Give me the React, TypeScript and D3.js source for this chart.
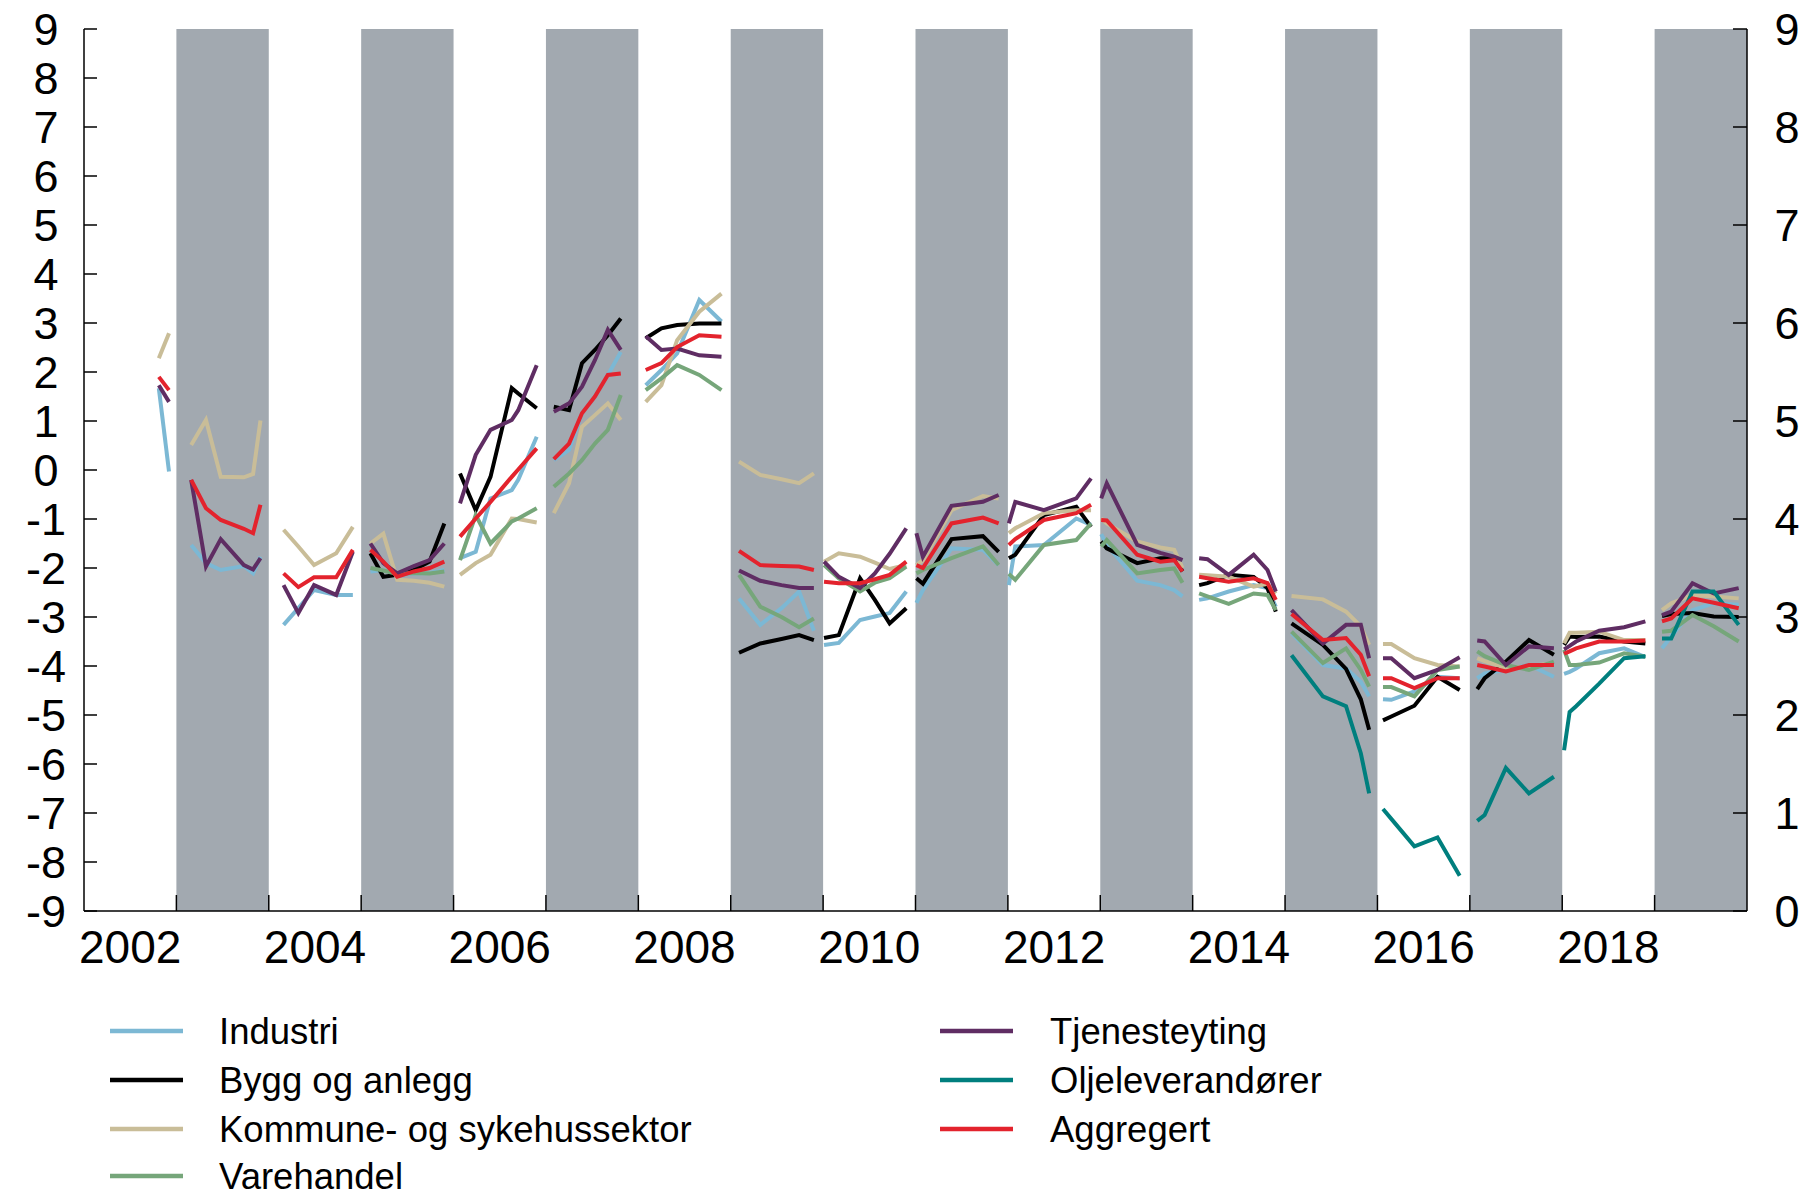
import { useRef, useEffect } from 'react';
import * as d3 from 'd3';

// Survey timing within each year (fraction of year) – shared by all series
const surveyPos: Record<number, number[]> = {
  2002: [0.81, 0.92],
  2003: [0.16, 0.32, 0.48, 0.73, 0.83, 0.91],
  2004: [0.16, 0.32, 0.49, 0.73, 0.91],
  2005: [0.1, 0.24, 0.39, 0.57, 0.74, 0.9],
  2006: [0.07, 0.24, 0.4, 0.63, 0.7, 0.9],
  2007: [0.085, 0.25, 0.39, 0.53, 0.67, 0.81],
  2008: [0.08, 0.25, 0.42, 0.66, 0.9],
  2009: [0.09, 0.32, 0.55, 0.74, 0.9],
  2010: [0.01, 0.17, 0.4, 0.56, 0.72, 0.9],
  2011: [0.01, 0.08, 0.39, 0.73, 0.9],
  2012: [0.01, 0.08, 0.39, 0.74, 0.9],
  2013: [0.01, 0.07, 0.4, 0.65, 0.8, 0.89],
  2014: [0.07, 0.16, 0.39, 0.66, 0.81, 0.9],
  2015: [0.07, 0.41, 0.66, 0.82, 0.91],
  2016: [0.06, 0.15, 0.4, 0.65, 0.89],
  2017: [0.08, 0.16, 0.39, 0.64, 0.91],
  2018: [0.02, 0.08, 0.15, 0.4, 0.67, 0.9],
  2019: [0.08, 0.18, 0.41, 0.64, 0.91],
};

const industri: Record<number, number[]> = {
  2002: [1.67, -0.03],
  2003: [-1.53, -1.9, -2.04, -1.96, -2.11, -1.77],
  2004: [-3.16, -2.82, -2.45, -2.55, -2.55],
  2005: [-2.07, -2.04, -2.14, -2.11, -2.1, -2.04],
  2006: [-1.8, -1.67, -0.58, -0.41, -0.2, 0.68],
  2007: [0.2, 0.41, 1.16, 1.5, 1.94, 2.41],
  2008: [1.73, 2.04, 2.38, 3.47, 3.03],
  2009: [-2.62, -3.16, -2.82, -2.48, -3.28],
  2010: [-3.57, -3.53, -3.06, -2.99, -2.92, -2.48],
  2011: [-2.71, -2.45, -1.6, -1.63, -1.94],
  2012: [-2.35, -1.56, -1.53, -0.99, -1.12],
  2013: [-1.31, -1.53, -2.26, -2.35, -2.45, -2.58],
  2014: [-2.65, -2.62, -2.48, -2.35, -2.41, -2.79],
  2015: [-3.33, -3.98, -4.05, -4.32, -4.62],
  2016: [-4.68, -4.69, -4.52, -4.22, -4.25],
  2017: [-4.25, -4.15, -4.08, -3.98, -4.22],
  2018: [-4.16, -4.12, -4.05, -3.74, -3.64, -3.82],
  2019: [-3.64, -3.4, -2.86, -2.72, -2.75],
};

const bygg: Record<number, number[]> = {
  2005: [-1.7, -2.18, -2.14, -2.04, -1.87, -1.09],
  2006: [-0.07, -0.82, -0.14, 1.67, 1.56, 1.26],
  2007: [1.29, 1.22, 2.18, 2.45, 2.75, 3.09],
  2008: [2.69, 2.89, 2.96, 2.99, 2.99],
  2009: [-3.73, -3.54, -3.45, -3.37, -3.47],
  2010: [-3.43, -3.37, -2.21, -2.65, -3.13, -2.82],
  2011: [-2.21, -2.32, -1.41, -1.35, -1.67],
  2012: [-1.8, -1.73, -0.92, -0.75, -1.16],
  2013: [-1.46, -1.6, -1.9, -1.8, -1.8, -2.07],
  2014: [-2.35, -2.31, -2.14, -2.18, -2.41, -2.89],
  2015: [-3.13, -3.57, -4.06, -4.68, -5.3],
  2016: [-5.11, -5.03, -4.81, -4.22, -4.49],
  2017: [-4.47, -4.25, -3.91, -3.47, -3.77],
  2018: [-3.57, -3.4, -3.41, -3.4, -3.5, -3.54],
  2019: [-2.98, -2.94, -2.92, -2.99, -3.0],
};

const kommune: Record<number, number[]> = {
  2002: [2.28, 2.79],
  2003: [0.51, 1.02, -0.14, -0.15, -0.08, 1.01],
  2004: [-1.22, -1.56, -1.94, -1.7, -1.16],
  2005: [-1.5, -1.3, -2.24, -2.26, -2.3, -2.38],
  2006: [-2.14, -1.9, -1.73, -0.99, -1.0, -1.07],
  2007: [-0.88, -0.27, 0.88, 1.12, 1.36, 1.02],
  2008: [1.39, 1.73, 2.65, 3.23, 3.6],
  2009: [0.17, -0.1, -0.19, -0.27, -0.07],
  2010: [-1.87, -1.7, -1.77, -1.89, -2.02, -1.94],
  2011: [-1.94, -1.84, -0.82, -0.53, -0.58],
  2012: [-1.29, -1.19, -0.88, -0.82, -0.82],
  2013: [-0.99, -1.09, -1.46, -1.58, -1.63, -2.0],
  2014: [-2.14, -2.15, -2.18, -2.38, -2.32, -2.52],
  2015: [-2.57, -2.64, -2.89, -3.19, -3.57],
  2016: [-3.55, -3.55, -3.84, -3.98, -4.01],
  2017: [-3.84, -3.9, -4.04, -4.01, -3.94],
  2018: [-3.54, -3.32, -3.32, -3.3, -3.47, -3.47],
  2019: [-2.86, -2.72, -2.55, -2.58, -2.62],
};

const varehandel: Record<number, number[]> = {
  2005: [-2.0, -2.05, -2.12, -2.1, -2.11, -2.07],
  2006: [-1.84, -0.92, -1.5, -1.05, -0.99, -0.78],
  2007: [-0.34, -0.07, 0.2, 0.54, 0.82, 1.53],
  2008: [1.63, 1.87, 2.14, 1.94, 1.63],
  2009: [-2.14, -2.79, -3.0, -3.21, -3.03],
  2010: [-1.94, -2.21, -2.48, -2.3, -2.21, -1.97],
  2011: [-2.11, -2.04, -1.8, -1.56, -1.94],
  2012: [-2.12, -2.24, -1.53, -1.43, -1.09],
  2013: [-1.56, -1.43, -2.11, -2.04, -2.01, -2.3],
  2014: [-2.52, -2.58, -2.73, -2.52, -2.55, -2.86],
  2015: [-3.3, -3.94, -3.64, -4.08, -4.42],
  2016: [-4.43, -4.43, -4.62, -4.08, -4.01],
  2017: [-3.7, -3.8, -3.98, -4.08, -3.91],
  2018: [-3.67, -3.98, -3.98, -3.93, -3.74, -3.81],
  2019: [-3.3, -3.28, -2.96, -3.19, -3.5],
};

const tjeneste: Record<number, number[]> = {
  2002: [1.73, 1.39],
  2003: [-0.2, -1.97, -1.41, -1.94, -2.03, -1.8],
  2004: [-2.35, -2.92, -2.35, -2.55, -1.67],
  2005: [-1.5, -1.9, -2.11, -1.96, -1.84, -1.5],
  2006: [-0.68, 0.31, 0.82, 1.02, 1.22, 2.14],
  2007: [1.19, 1.36, 1.7, 2.24, 2.86, 2.45],
  2008: [2.73, 2.45, 2.48, 2.34, 2.31],
  2009: [-2.05, -2.26, -2.35, -2.41, -2.41],
  2010: [-1.87, -2.18, -2.41, -2.11, -1.71, -1.19],
  2011: [-1.29, -1.77, -0.73, -0.65, -0.51],
  2012: [-1.09, -0.65, -0.82, -0.58, -0.17],
  2013: [-0.58, -0.27, -1.53, -1.69, -1.77, -1.84],
  2014: [-1.8, -1.82, -2.14, -1.73, -2.04, -2.48],
  2015: [-2.86, -3.54, -3.16, -3.16, -3.84],
  2016: [-3.84, -3.84, -4.25, -4.08, -3.82],
  2017: [-3.48, -3.5, -3.98, -3.6, -3.64],
  2018: [-3.66, -3.59, -3.5, -3.28, -3.21, -3.09],
  2019: [-2.96, -2.89, -2.31, -2.52, -2.41],
};

// right axis
const olje: Record<number, number[]> = {
  2015: [2.61, 2.19, 2.09, 1.61, 1.2],
  2016: [1.04, 0.94, 0.66, 0.75, 0.36],
  2017: [0.92, 0.98, 1.46, 1.2, 1.37],
  2018: [1.64, 2.03, 2.09, 2.32, 2.58, 2.6],
  2019: [2.78, 2.78, 3.26, 3.26, 2.92],
};

const aggregert: Record<number, number[]> = {
  2002: [1.9, 1.63],
  2003: [-0.2, -0.78, -1.02, -1.2, -1.29, -0.71],
  2004: [-2.11, -2.39, -2.19, -2.19, -1.63],
  2005: [-1.63, -1.87, -2.18, -2.07, -2.0, -1.87],
  2006: [-1.36, -0.99, -0.65, -0.14, 0.01, 0.44],
  2007: [0.22, 0.54, 1.16, 1.5, 1.94, 1.97],
  2008: [2.04, 2.18, 2.51, 2.75, 2.72],
  2009: [-1.65, -1.94, -1.96, -1.97, -2.04],
  2010: [-2.28, -2.31, -2.31, -2.23, -2.14, -1.87],
  2011: [-1.94, -2.0, -1.09, -0.97, -1.09],
  2012: [-1.53, -1.41, -1.02, -0.88, -0.71],
  2013: [-1.02, -1.03, -1.73, -1.87, -1.84, -2.07],
  2014: [-2.18, -2.21, -2.28, -2.21, -2.31, -2.65],
  2015: [-2.94, -3.47, -3.43, -3.77, -4.21],
  2016: [-4.25, -4.25, -4.45, -4.25, -4.25],
  2017: [-3.98, -4.01, -4.11, -3.98, -3.98],
  2018: [-3.75, -3.7, -3.64, -3.5, -3.5, -3.48],
  2019: [-3.09, -3.03, -2.62, -2.71, -2.82],
};

const series = [
  { name: 'Industri', data: industri, color: '#7cb8d4', right: false },
  { name: 'Bygg og anlegg', data: bygg, color: '#000000', right: false },
  { name: 'Kommune- og sykehussektor', data: kommune, color: '#c9bd98', right: false },
  { name: 'Varehandel', data: varehandel, color: '#76a67a', right: false },
  { name: 'Tjenesteyting', data: tjeneste, color: '#5f2d63', right: false },
  { name: 'Oljeleverandører', data: olje, color: '#007f7e', right: true },
  { name: 'Aggregert', data: aggregert, color: '#e3232d', right: false },
];

const leftTicks = d3.range(-9, 10);
const rightTicks = d3.range(0, 10);
const yearLabels = [2002, 2004, 2006, 2008, 2010, 2012, 2014, 2016, 2018];
const shadedYears = [2003, 2005, 2007, 2009, 2011, 2013, 2015, 2017, 2019];

const W = 1809;
const H = 1193;

const App = () => {
  const svgRef = useRef<SVGSVGElement>(null);

  useEffect(() => {
    if (!svgRef.current) return;
    const svg = d3.select(svgRef.current);
    svg.selectAll('*').remove();

    const left = 84, right = 1747, top = 29, bottom = 911;
    const x = d3.scaleLinear().domain([2002, 2020]).range([left, right]);
    const yL = d3.scaleLinear().domain([-9, 9]).range([bottom, top]);
    const yR = d3.scaleLinear().domain([0, 9]).range([bottom, top]);
    const font = 'Liberation Sans, Arial, sans-serif';

    // shaded years
    svg.append('g')
      .selectAll('rect')
      .data(shadedYears)
      .enter()
      .append('rect')
      .attr('x', d => x(d))
      .attr('y', top)
      .attr('width', d => x(d + 1) - x(d))
      .attr('height', bottom - top)
      .attr('fill', '#a2a9b0');

    // axes lines
    const ax = svg.append('g').attr('stroke', '#000').attr('stroke-width', 1.5);
    ax.append('line').attr('x1', left).attr('x2', left).attr('y1', top).attr('y2', bottom);
    ax.append('line').attr('x1', right).attr('x2', right).attr('y1', top).attr('y2', bottom);
    ax.append('line').attr('x1', left).attr('x2', right).attr('y1', bottom).attr('y2', bottom);

    // ticks
    ax.selectAll('.lt').data(leftTicks).enter().append('line')
      .attr('x1', left).attr('x2', left + 13)
      .attr('y1', d => yL(d)).attr('y2', d => yL(d));
    ax.selectAll('.rt').data(rightTicks).enter().append('line')
      .attr('x1', right - 14).attr('x2', right)
      .attr('y1', d => yR(d)).attr('y2', d => yR(d));
    ax.selectAll('.bt').data(d3.range(2003, 2020)).enter().append('line')
      .attr('x1', d => x(d)).attr('x2', d => x(d))
      .attr('y1', bottom).attr('y2', bottom - 16);

    // tick labels
    svg.append('g').selectAll('text').data(leftTicks).enter().append('text')
      .attr('x', 46).attr('y', d => yL(d)).attr('dy', '0.36em')
      .attr('text-anchor', 'middle')
      .attr('font-family', font).attr('font-size', 45)
      .text(d => String(d));
    svg.append('g').selectAll('text').data(rightTicks).enter().append('text')
      .attr('x', 1787).attr('y', d => yR(d)).attr('dy', '0.36em')
      .attr('text-anchor', 'middle')
      .attr('font-family', font).attr('font-size', 45)
      .text(d => String(d));
    svg.append('g').selectAll('text').data(yearLabels).enter().append('text')
      .attr('x', d => x(d + 0.5)).attr('y', 963)
      .attr('text-anchor', 'middle')
      .attr('font-family', font).attr('font-size', 46)
      .text(d => String(d));

    // series lines, one path per year
    const lines = svg.append('g').attr('fill', 'none')
      .attr('stroke-width', 4).attr('stroke-linejoin', 'miter');
    series.forEach(s => {
      const yS = s.right ? yR : yL;
      const line = d3.line<[number, number]>()
        .x(d => x(d[0]))
        .y(d => yS(d[1]));
      Object.keys(s.data).forEach(k => {
        const yr = +k;
        const pts: [number, number][] = s.data[yr].map((v, i) => [yr + surveyPos[yr][i], v]);
        lines.append('path')
          .attr('d', line(pts))
          .attr('stroke', s.color);
      });
    });

    // legend
    const leg = svg.append('g');
    const cols = [
      { x: 110, tx: 219, items: series.slice(0, 4) },
      { x: 940, tx: 1050, items: series.slice(4) },
    ];
    const rowY = [1031, 1080, 1129, 1176];
    cols.forEach(c => {
      c.items.forEach((s, i) => {
        leg.append('line')
          .attr('x1', c.x).attr('x2', c.x + 73)
          .attr('y1', rowY[i]).attr('y2', rowY[i])
          .attr('stroke', s.color).attr('stroke-width', 4.5);
        leg.append('text')
          .attr('x', c.tx).attr('y', rowY[i]).attr('dy', '0.36em')
          .attr('font-family', font).attr('font-size', 36.5)
          .text(s.name);
      });
    });
  }, []);

  return (
    <svg
      ref={svgRef}
      width={W}
      height={H}
      style={{ position: 'absolute', left: 0, top: 0, display: 'block', background: '#fff' }}
    />
  );
};

export default App;
